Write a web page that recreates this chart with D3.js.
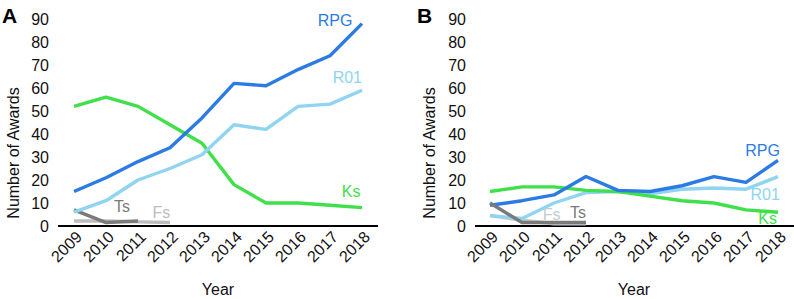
<!DOCTYPE html>
<html>
<head>
<meta charset="utf-8">
<script src="https://cdn.jsdelivr.net/npm/d3@7"></script>
<style>
  body { margin: 0; background: #fff; }
  svg { font-family: "Liberation Sans", Arial, sans-serif; }
</style>
</head>
<body>
<svg id="chart" width="794" height="299"></svg>
<script>
/* global d3 */

var width = 794,
  height = 299;

var years = [ 2009, 2010, 2011, 2012, 2013, 2014, 2015, 2016, 2017, 2018 ];
var yTicks = [ 0, 10, 20, 30, 40, 50, 60, 70, 80, 90 ];

// panel A
var rpgA = [ 15, 21, 28, 34, 47, 62, 61, 68, 74, 88 ];
var r01A = [ 6, 11, 20, 25, 31, 44, 42, 52, 53, 59 ];
var ksA = [ 52, 56, 52, 44, 36, 18, 10, 10, 9, 8 ];
var tsA = [ 7, 1.5, 2.2 ];
var fsA = [ 2.2, 2.2, 1.8, 1.5 ];

// panel B
var rpgB = [ 9, 11, 13.5, 21.5, 15.5, 15, 17.5, 21.5, 19, 28.5 ];
var r01B = [ 4.5, 3.3, 10, 14.5, 15, 14, 16, 16.5, 16, 21.5 ];
var ksB = [ 15, 17, 17, 15.5, 15, 13, 11, 10, 7, 6 ];
var tsB = [ 10, 1.5, 1.5, 1.5 ];
var fsB = [ 4.5, 2.5, 1, 1 ];

var colors = {
  RPG: "#2c7be5",
  R01: "#8fd4f1",
  Ks: "#3fe04a",
  Ts: "#7a7a7a",
  Fs: "#bdbdbd"
};

var fontSize = 16;

var svg = d3.select( "#chart" );

function drawPanel( opts ) {

  var g = svg.append( "g" );

  var xScale = d3.scaleLinear()
    .domain( [ 2009, 2018 ] )
    .range( [ opts.x0, opts.x0 + 288 ] );

  var yScale = d3.scaleLinear()
    .domain( [ 0, 90 ] )
    .range( [ 226, 19 ] );

  // panel letter
  g.append( "text" )
    .attr( "x", opts.letterX )
    .attr( "y", 23 )
    .attr( "font-size", 21 )
    .attr( "font-weight", "bold" )
    .text( opts.letter );

  // y tick labels
  g.selectAll( "text.ytick" )
    .data( yTicks )
    .enter().append( "text" )
      .attr( "class", "ytick" )
      .attr( "x", opts.tickRight )
      .attr( "y", d => yScale( d ) )
      .attr( "dy", "0.36em" )
      .attr( "text-anchor", "end" )
      .attr( "font-size", fontSize )
      .attr( "fill", "#111" )
      .text( d => d );

  // y axis title
  g.append( "text" )
    .attr( "transform", "translate(" + ( opts.x0 - 55 ) + ",153) rotate(-90)" )
    .attr( "text-anchor", "middle" )
    .attr( "font-size", fontSize )
    .attr( "fill", "#111" )
    .text( "Number of Awards" );

  // x axis line
  g.append( "line" )
    .attr( "x1", opts.axisLeft )
    .attr( "x2", opts.axisRight )
    .attr( "y1", yScale( 0 ) )
    .attr( "y2", yScale( 0 ) )
    .attr( "stroke", "#000" )
    .attr( "stroke-width", 2 );

  // x tick labels
  g.selectAll( "text.xtick" )
    .data( years )
    .enter().append( "text" )
      .attr( "class", "xtick" )
      .attr( "transform", d => "translate(" + ( xScale( d ) + 5 ) + ",234) rotate(-45)" )
      .attr( "text-anchor", "end" )
      .attr( "dy", "0.35em" )
      .attr( "font-size", fontSize )
      .attr( "fill", "#111" )
      .text( d => d );

  // x axis title
  g.append( "text" )
    .attr( "x", xScale( 2013.5 ) )
    .attr( "y", 295 )
    .attr( "text-anchor", "middle" )
    .attr( "font-size", fontSize )
    .attr( "fill", "#111" )
    .text( "Year" );

  var line = d3.line()
    .x( ( d, i ) => xScale( years[ i ] ) )
    .y( d => yScale( d ) );

  opts.series.forEach( s => {
    g.append( "path" )
      .datum( s.values )
      .attr( "d", line )
      .attr( "fill", "none" )
      .attr( "stroke", s.color || colors[ s.name ] )
      .attr( "stroke-width", 3.4 )
      .attr( "stroke-linejoin", "round" );
  } );

  opts.labels.forEach( l => {
    g.append( "text" )
      .attr( "x", xScale( l.year ) )
      .attr( "y", yScale( l.value ) )
      .attr( "text-anchor", l.anchor )
      .attr( "font-size", fontSize )
      .attr( "fill", l.color || colors[ l.name ] )
      .text( l.name );
  } );

}

drawPanel( {
  letter: "A",
  letterX: 2,
  x0: 74,
  tickRight: 49,
  axisLeft: 58,
  axisRight: 378,
  series: [
    { name: "Fs", values: fsA },
    { name: "Ts", values: tsA },
    { name: "Ks", values: ksA },
    { name: "R01", values: r01A },
    { name: "RPG", values: rpgA }
  ],
  labels: [
    { name: "RPG", year: 2017.7, value: 87, anchor: "end" },
    { name: "R01", year: 2018, value: 62, anchor: "end" },
    { name: "Ks", year: 2017.95, value: 12.6, anchor: "end" },
    { name: "Ts", year: 2010.25, value: 6, anchor: "start" },
    { name: "Fs", year: 2011.45, value: 3.4, anchor: "start" }
  ]
} );

drawPanel( {
  letter: "B",
  letterX: 417,
  x0: 490,
  tickRight: 466,
  axisLeft: 475,
  axisRight: 794,
  series: [
    { name: "Fs", values: fsB, color: "#c5cbd3" },
    { name: "R01", values: r01B },
    { name: "Ks", values: ksB },
    { name: "RPG", values: rpgB },
    { name: "Ts", values: tsB }
  ],
  labels: [
    { name: "RPG", year: 2018.06, value: 30.4, anchor: "end" },
    { name: "R01", year: 2018.06, value: 11.3, anchor: "end" },
    { name: "Ks", year: 2017.97, value: 0.9, anchor: "end" },
    { name: "Fs", year: 2010.65, value: 2.6, anchor: "start", color: "#c5cbd3" },
    { name: "Ts", year: 2011.5, value: 3.5, anchor: "start" }
  ]
} );
</script>
</body>
</html>
